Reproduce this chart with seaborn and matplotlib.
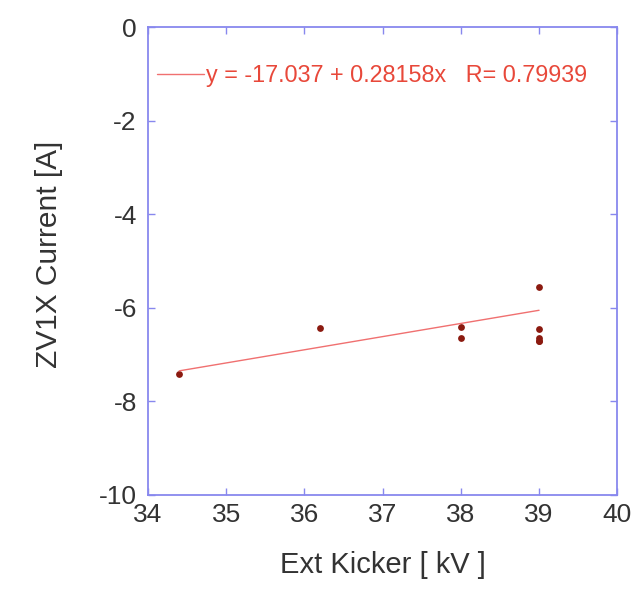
import matplotlib
matplotlib.use("Agg")
import matplotlib.pyplot as plt
import seaborn as sns
import numpy as np
import pandas as pd
from matplotlib.lines import Line2D

kicker_kv = [34.4, 36.2, 38.0, 38.0, 39.0, 39.0, 39.0, 39.0, 39.0]
current_a = [-7.42, -6.43, -6.42, -6.65, -5.55, -6.45, -6.65, -6.72, -6.72]
fit_intercept = -17.037
fit_slope = 0.28158
fit_r = 0.79939
x_ticks = [34, 35, 36, 37, 38, 39, 40]
y_ticks = [0, -2, -4, -6, -8, -10]

sns.set_theme(style="white")
plt.rcParams['font.family'] = ['Liberation Sans', 'DejaVu Sans']
plt.rcParams['axes.unicode_minus'] = False

df = pd.DataFrame({"kv": kicker_kv, "cur": current_a})
fit_x = [min(kicker_kv), max(kicker_kv)]
fit_df = pd.DataFrame({"kv": fit_x, "cur": [fit_intercept + fit_slope * v for v in fit_x]})

fig = plt.figure(figsize=(6.43, 5.89), dpi=100)
ax = fig.add_axes([0.230, 0.160, 0.730, 0.794])

line_color = "#f07070"
text_color = "#e8483a"
sns.lineplot(data=fit_df, x="kv", y="cur", ax=ax, color=line_color, linewidth=1.0)
sns.scatterplot(data=df, x="kv", y="cur", ax=ax, color="#8b1a10", s=24, edgecolor="#8b1a10", linewidth=0)

ax.set_xlim(34, 40)
ax.set_ylim(-10, 0)
ax.set_xticks(x_ticks)
ax.set_yticks(y_ticks)
ax.set_xticklabels([str(t) for t in x_ticks])
ax.set_yticklabels([str(t) for t in y_ticks])

spine_color = "#8888ee"
for s in ax.spines.values():
    s.set_color(spine_color)
    s.set_linewidth(1.3)
ax.tick_params(axis="both", which="both", direction="in", length=5, width=1.0,
               color=spine_color, labelcolor="#333333", labelsize=19,
               top=True, right=True, bottom=True, left=True)
ax.tick_params(axis="x", pad=6)
ax.tick_params(axis="y", pad=8)

ax.set_xlabel("Ext Kicker [ kV ]", fontsize=21, color="#333333", labelpad=17)
ax.set_ylabel("ZV1X Current [A]", fontsize=21.5, color="#333333", labelpad=26)
ax.yaxis.label.set_y(0.515)

handle = Line2D([0], [0], color=line_color, linewidth=1.0)
leg = ax.legend([handle], [f"y = {fit_intercept} + {fit_slope}x   R= {fit_r}"],
                loc="upper left", bbox_to_anchor=(-0.015, 0.955), frameon=False,
                fontsize=16.8, handlelength=2.0, handletextpad=0.08, borderaxespad=0.3)
for t in leg.get_texts():
    t.set_color(text_color)

fig.savefig("out.png", dpi=100, facecolor="white")
